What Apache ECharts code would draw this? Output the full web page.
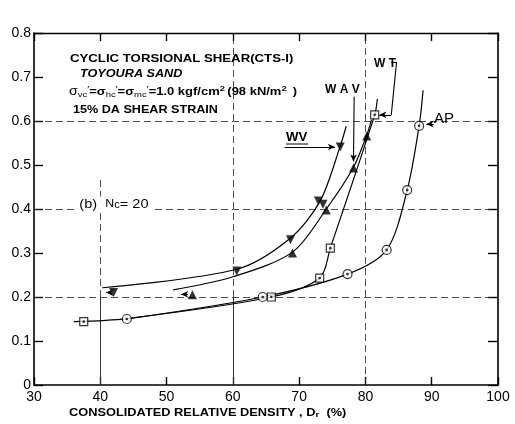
<!DOCTYPE html>
<html>
<head>
<meta charset="utf-8">
<script src="https://cdn.jsdelivr.net/npm/echarts@6/dist/echarts.min.js"></script>
<style>
  html, body { margin: 0; padding: 0; background: #fff; }
  #chart { width: 515px; height: 424px; }
</style>
</head>
<body>
<div id="chart"></div>
<script>
// Stress ratio vs consolidated relative density, Toyoura sand, Nc = 20
const xRange = [30, 100];
const yRange = [0, 0.8];

// measured points (Dr %, stress ratio)
const wvPoints  = [[42.0, 0.210], [60.6, 0.259], [68.7, 0.330], [72.9, 0.418], [73.6, 0.411], [76.2, 0.541]];
const wavPoints = [[53.9, 0.205], [69.0, 0.300], [74.1, 0.398], [78.2, 0.493], [80.2, 0.566]];
const wtPoints  = [[37.5, 0.144], [65.8, 0.200], [73.1, 0.243], [74.7, 0.311], [81.4, 0.614]];
const apPoints  = [[44.0, 0.150], [64.5, 0.200], [77.3, 0.252], [83.2, 0.307], [86.3, 0.443], [88.1, 0.589]];

// fitted curves through each set
const wvCurve  = [[40.3, 0.221], [60.6, 0.263], [68.7, 0.334], [73.2, 0.419], [76.2, 0.543], [77.1, 0.588]];
const wavCurve = [[51.0, 0.216], [60.0, 0.246], [69.0, 0.302], [74.1, 0.400], [78.2, 0.495], [80.2, 0.568], [80.9, 0.602]];
const wtCurve  = [[36.0, 0.144], [44.0, 0.151], [65.8, 0.200], [73.1, 0.243], [74.7, 0.311], [81.4, 0.614], [81.8, 0.650]];
const apCurve  = [[44.0, 0.150], [64.5, 0.200], [77.3, 0.252], [83.2, 0.307], [86.3, 0.443], [88.1, 0.589], [88.7, 0.670]];

// reference grid: dashed lines and the frame between Dr 40-60 below 0.2
const dashX = [60, 80];
const dashY = [0.2, 0.4, 0.6];

const chart = echarts.init(document.getElementById('chart'), null, { renderer: 'canvas' });

const lineStyle = { color: '#000', width: 1.2 };
const dashStyle = { color: '#222', width: 0.8, type: [7, 4] };

function curve(data) {
  return {
    type: 'line', data: data, smooth: 0.3, showSymbol: false,
    symbol: 'none', lineStyle: lineStyle, silent: true, z: 2
  };
}
function marks(data, symbol, size, rotate, hollow) {
  return {
    type: 'scatter', data: data, symbol: symbol, symbolSize: size, symbolRotate: rotate || 0,
    itemStyle: hollow ? { color: '#fff', borderColor: '#000', borderWidth: 1.2 } : { color: '#000' },
    silent: true, z: 4
  };
}
function dots(data) {
  return { type: 'scatter', data: data, symbol: 'circle', symbolSize: 2.6, itemStyle: { color: '#000' }, silent: true, z: 5 };
}
function seg(a, b, arrow) {
  return [{ coord: a, symbol: 'none' }, { coord: b, symbol: arrow ? 'arrow' : 'none' }];
}

const gridLines = [];
dashX.forEach(v => gridLines.push(seg([v, 0.2], [v, 0.8])));
dashY.forEach(v => gridLines.push(seg([30, v], [100, v])));
gridLines.push(seg([40, 0.2], [40, 0.47]));
gridLines.push(seg([80, 0], [80, 0.2]));

const solidLines = [
  seg([40, 0], [40, 0.2]),
  seg([60, 0], [60, 0.2])
];

const arrows = [
  seg([67.8, 0.541], [75.4, 0.541], true),     // WV
  seg([78.3, 0.655], [78.2, 0.508], true),     // WAV
  seg([83.9, 0.734], [84.7, 0.734]),           // WT bracket
  seg([84.7, 0.734], [83.9, 0.614]),
  seg([83.9, 0.614], [82.1, 0.614], true),
  seg([90.3, 0.593], [89.2, 0.593], true),     // AP
  seg([41.6, 0.210], [40.9, 0.210], true),
  seg([53.2, 0.206], [52.2, 0.206], true)
];

const font = 'Liberation Sans, Arial, Helvetica, sans-serif';

// wide lettering: plain text stretched horizontally
function wide(x, y, text, fontSpec, sx, rich) {
  const style = { text: text, font: fontSpec, fill: '#000', verticalAlign: 'middle', align: 'left' };
  if (rich) style.rich = rich;
  return { type: 'text', x: x, y: y, scaleX: sx, originX: 0, originY: 0, z: 100, style: style };
}

const option = {
  animation: false,
  backgroundColor: '#fff',
  grid: { left: 34, right: 17, top: 33, bottom: 39 },
  xAxis: [
    {
      type: 'value', min: xRange[0], max: xRange[1], interval: 10, position: 'bottom',
      axisLine: { show: true, onZero: false, lineStyle: { color: '#000', width: 1.6 } },
      axisTick: { show: true, inside: true, length: 8, lineStyle: { color: '#000', width: 1.4 } },
      axisLabel: { color: '#000', fontSize: 14, fontFamily: font, margin: 5 },
      splitLine: { show: false }
    },
    {
      type: 'value', min: xRange[0], max: xRange[1], interval: 10, position: 'top',
      axisLine: { show: true, onZero: false, lineStyle: { color: '#000', width: 1.4 } },
      axisTick: { show: true, inside: true, length: 8, lineStyle: { color: '#000', width: 1.4 } },
      axisLabel: { show: false }, splitLine: { show: false }
    }
  ],
  yAxis: [
    {
      type: 'value', min: yRange[0], max: yRange[1], interval: 0.1, position: 'left',
      axisLine: { show: true, onZero: false, lineStyle: { color: '#000', width: 1.6 } },
      axisTick: { show: true, inside: true, length: 9, lineStyle: { color: '#000', width: 1.4 } },
      axisLabel: { color: '#000', fontSize: 14, fontFamily: font, margin: 3 },
      splitLine: { show: false }
    },
    {
      type: 'value', min: yRange[0], max: yRange[1], interval: 0.1, position: 'right',
      axisLine: { show: true, onZero: false, lineStyle: { color: '#000', width: 1.6 } },
      axisTick: { show: true, inside: true, length: 10, lineStyle: { color: '#000', width: 1.4 } },
      axisLabel: { show: false }, splitLine: { show: false }
    }
  ],
  series: [
    {
      type: 'line', data: [], silent: true,
      markLine: { silent: true, symbol: 'none', label: { show: false }, lineStyle: dashStyle, data: gridLines, z: 1 }
    },
    {
      type: 'line', data: [], silent: true,
      markLine: { silent: true, symbol: 'none', label: { show: false }, lineStyle: { color: '#333', width: 1, type: 'solid' }, data: solidLines, z: 1 }
    },
    {
      type: 'line', data: [], silent: true,
      markLine: {
        silent: true, symbolSize: [5, 7], label: { show: false },
        lineStyle: { color: '#000', width: 1.1, type: 'solid' }, data: arrows, z: 3
      }
    },
    curve(wvCurve), curve(wavCurve), curve(wtCurve), curve(apCurve),
    marks(wvPoints, 'triangle', 9, 180, false),
    marks(wavPoints, 'triangle', 9, 0, false),
    marks(wtPoints, 'rect', 8, 0, true), dots(wtPoints),
    marks(apPoints, 'circle', 9, 0, true), dots(apPoints)
  ],
  graphic: [
    wide(70, 59, 'CYCLIC TORSIONAL SHEAR(CTS-I)', 'bold 11px ' + font, 1.2),
    wide(80, 74, 'TOYOURA SAND', 'italic bold 11px ' + font, 1.15),
    wide(69, 92, '{s|σ}{b|vc}{p|′}{t|=σ}{b|hc}{p|′}{t|=σ}{b|mc}{p|′}{t|=1.0 kgf/cm}{u|2}{t|(98 kN/m}{u|2}{t| )}',
      'bold 11px ' + font, 1.18, {
        s: { font: '12px ' + font, fill: '#000' },
        t: { font: 'bold 11px ' + font, fill: '#000' },
        b: { font: '8px ' + font, fill: '#000', padding: [6, 0, 0, 0] },
        p: { font: '9px ' + font, fill: '#000', padding: [0, 0, 4, 0] },
        u: { font: 'bold 8px ' + font, fill: '#000', padding: [0, 2, 6, 0] }
      }),
    wide(73, 110, '15% DA SHEAR STRAIN', 'bold 10.5px ' + font, 1.2),
    {
      type: 'text', x: 76, y: 204, z: 100, scaleX: 1.12, originX: 0, originY: 0,
      style: {
        text: '{t|(b)  }{n|N}{c|c}{t|= 20}', verticalAlign: 'middle',
        backgroundColor: '#fff', padding: [1, 5, 1, 3],
        rich: {
          t: { font: '13px ' + font, fill: '#000' },
          n: { font: '11px ' + font, fill: '#000' },
          c: { font: '10px ' + font, fill: '#000', padding: [3, 0, 0, 0] }
        }
      }
    },
    wide(286, 138, 'WV', 'bold 12px ' + font, 1.1),
    { type: 'line', z: 100, shape: { x1: 286, y1: 144, x2: 308, y2: 144 }, style: { stroke: '#000', lineWidth: 1 } },
    wide(325, 90, 'W A V', 'bold 12px ' + font, 1.0),
    wide(374, 64, 'W T', 'bold 12px ' + font, 1.0),
    wide(434, 119, 'AP', '15px ' + font, 1.0),
    wide(69, 413, '{t|CONSOLIDATED RELATIVE DENSITY , D}{r|r}{t|  (%)}', 'bold 10.5px ' + font, 1.22, {
      t: { font: 'bold 10.5px ' + font, fill: '#000' },
      r: { font: 'bold 8px ' + font, fill: '#000', padding: [3, 0, 0, 0] }
    })
  ]
};

chart.setOption(option);
</script>
</body>
</html>
